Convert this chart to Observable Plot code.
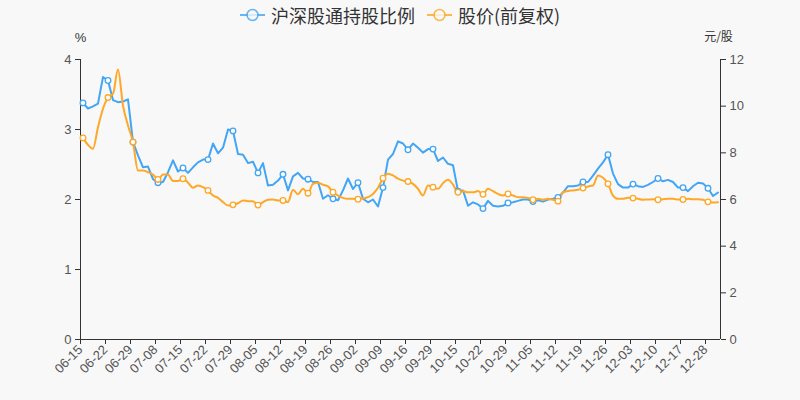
<!DOCTYPE html>
<html>
<head>
<meta charset="utf-8">
<script src="https://cdn.jsdelivr.net/npm/d3@7"></script>
<script src="https://cdn.jsdelivr.net/npm/@observablehq/plot@0.6"></script>
<style>
  html, body { margin: 0; padding: 0; background: #f8f8f8; }
  #wrap { position: relative; width: 800px; height: 400px; }
  #legend { position: absolute; top: 0px; left: 0; width: 800px; height: 30px; display: flex; justify-content: center; align-items: center;
            font-family: "Noto Sans CJK SC", sans-serif; font-size: 18px; color: #333; gap: 12px; }
  .item { display: flex; align-items: center; gap: 6px; }
</style>
</head>
<body>
<div id="wrap">
  <div id="legend"></div>
  <div id="chart"></div>
</div>
<script>
const tickLabels = ["06-15","06-22","06-29","07-08","07-15","07-22","07-29","08-05","08-12","08-19","08-26","09-02","09-09",
  "09-16","09-29","10-15","10-22","10-29","11-05","11-12","11-19","11-26","12-03","12-10","12-17","12-28"];

const seriesNames = ["沪深股通持股比例", "股价(前复权)"];
const seriesColors = ["#42a5f5", "#ffa726"];

// 沪深股通持股比例 (%) — one value per trading day
const holding = [
  3.38,3.30,3.33,3.37,3.75,3.70,3.42,3.39,3.40,3.43,2.82,2.63,2.46,2.47,2.29,2.24,2.25,2.39,2.56,2.40,2.45,2.38,
  2.46,2.53,2.57,2.57,2.80,2.66,2.74,3.00,2.98,2.65,2.64,2.52,2.54,2.38,2.52,2.20,2.21,2.27,2.36,2.13,2.33,
  2.38,2.30,2.29,2.25,2.25,2.01,2.06,2.01,1.99,2.13,2.30,2.15,2.24,2.01,1.96,2.00,1.90,2.17,2.57,2.65,2.83,2.80,
  2.71,2.80,2.74,2.67,2.72,2.72,2.55,2.60,2.51,2.49,2.12,2.13,1.91,1.96,1.93,1.87,1.98,1.91,1.90,1.91,1.95,
  1.96,1.98,2.00,2.00,1.97,1.99,1.97,2.00,2.01,2.03,2.10,2.19,2.19,2.20,2.25,2.25,2.34,2.44,2.53,2.64,2.37,2.22,
  2.17,2.17,2.22,2.19,2.18,2.21,2.25,2.30,2.26,2.28,2.25,2.17,2.17,2.12,2.19,2.24,2.23,2.16,2.05,2.10
];

// 股价(前复权) (元/股)
const price = [
  8.64,8.34,8.17,9.10,9.89,10.37,10.53,11.57,10.03,9.17,8.46,7.24,7.24,7.17,7.07,6.86,7.07,7.07,6.79,6.79,6.89,6.72,
  6.50,6.60,6.53,6.39,6.17,6.07,5.89,5.74,5.77,5.84,5.96,5.93,5.93,5.76,5.89,5.99,6.00,5.96,5.96,5.89,6.42,
  6.22,6.46,6.27,6.67,6.72,6.63,6.56,6.31,6.17,6.07,6.03,6.03,6.01,6.04,6.10,6.24,6.50,6.91,7.10,7.03,6.89,6.81,
  6.77,6.67,6.46,6.17,6.60,6.53,6.46,6.70,6.85,6.64,6.31,6.36,6.31,6.31,6.36,6.22,6.46,6.36,6.24,6.17,6.24,
  6.17,6.10,6.10,6.07,5.99,6.03,5.99,6.03,5.99,5.93,6.31,6.36,6.39,6.42,6.49,6.56,6.60,7.03,6.93,6.67,6.17,6.03,
  6.03,6.07,6.06,6.03,5.99,6.00,6.01,5.99,6.01,6.03,6.03,6.00,6.00,6.03,6.01,6.01,5.99,5.90,5.87,5.88
];

const leftTicks = [0, 1, 2, 3, 4];
const rightTicks = [0, 2, 4, 6, 8, 10, 12];

const N = holding.length;
const ratio = 3; // right axis max 12 vs left max 4
const blue = holding.map((v, i) => ({i: i + 0.5, v}));
const orange = price.map((v, i) => ({i: i + 0.5, v: v / ratio}));
const markerEvery = 5;
const blueDots = blue.filter((d, k) => k % markerEvery === 0);
const orangeDots = orange.filter((d, k) => k % markerEvery === 0);
const xTicks = tickLabels.map((_, k) => k * 5);

const fontNum = "'Liberation Sans', Arial, sans-serif";

const chart = Plot.plot({
  width: 800,
  height: 400,
  marginLeft: 80,
  marginRight: 80,
  marginTop: 59,
  marginBottom: 61,
  style: {background: "#f8f8f8", fontFamily: fontNum, fontSize: "13px", color: "#333"},
  x: {domain: [0, N], axis: null},
  y: {domain: [0, 4], axis: null},
  marks: [
    Plot.ruleY([0], {stroke: "#333", strokeWidth: 1}),
    Plot.ruleX([0], {y1: 0, y2: 4, stroke: "#333", strokeWidth: 1}),
    Plot.ruleX([N], {y1: 0, y2: 4, stroke: "#333", strokeWidth: 1}),
    Plot.axisX({ticks: xTicks, tickFormat: d => tickLabels[d / 5], tickRotate: -45, tickSize: 5, tickPadding: 3,
      stroke: "#333", fill: "#555", fontSize: 13, label: null}),
    Plot.axisY({anchor: "left", ticks: leftTicks, tickFormat: d => String(d), tickSize: 5, tickPadding: 4,
      stroke: "#333", fill: "#555", fontSize: 13, label: null}),
    Plot.axisY({anchor: "right", ticks: rightTicks.map(t => t / ratio), tickFormat: d => String(Math.round(d * ratio)),
      tickSize: 5, tickPadding: 4, stroke: "#333", fill: "#555", fontSize: 13, label: null}),
    Plot.text(["%"], {frameAnchor: "top-left", textAnchor: "middle", lineAnchor: "middle", dy: -22, fill: "#333", fontSize: 13}),
    Plot.text(["元/股"], {frameAnchor: "top-right", textAnchor: "middle", lineAnchor: "middle", dx: -2, dy: -22, fill: "#333", fontSize: 12,
      fontFamily: "'Noto Sans CJK SC', sans-serif"}),
    Plot.line(blue, {x: "i", y: "v", stroke: seriesColors[0], strokeWidth: 2}),
    Plot.line(orange, {x: "i", y: "v", stroke: seriesColors[1], strokeWidth: 2, curve: "monotone-x"}),
    Plot.dot(blueDots, {x: "i", y: "v", r: 2.8, fill: "white", stroke: seriesColors[0], strokeWidth: 1.3}),
    Plot.dot(orangeDots, {x: "i", y: "v", r: 2.8, fill: "white", stroke: seriesColors[1], strokeWidth: 1.3})
  ]
});
document.getElementById("chart").appendChild(chart);

const legend = document.getElementById("legend");
seriesNames.forEach((name, k) => {
  const item = document.createElement("div");
  item.className = "item";
  item.innerHTML = `<svg width="25" height="14"><line x1="0" y1="7" x2="25" y2="7" stroke="${seriesColors[k]}" stroke-width="2" opacity="0.8"/>` +
    `<circle cx="12.5" cy="7" r="5.5" fill="#f8f8f8" stroke="${seriesColors[k]}" stroke-width="1.5" opacity="0.8"/></svg><span>${name}</span>`;
  legend.appendChild(item);
});
</script>
</body>
</html>
